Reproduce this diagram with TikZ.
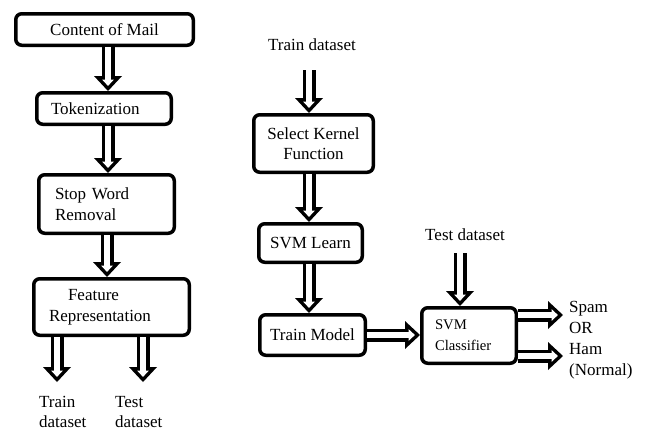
\documentclass[tikz,border=0pt]{standalone}
\usepackage{fontspec}
\setmainfont{Liberation Serif}
\usetikzlibrary{arrows.meta}
\newcommand{\fatarrow}[2]{%
  \draw[fat] #1 -- #2;
  \draw[fatin] #1 -- #2;}

\begin{document}
\begin{tikzpicture}[x=1pt,y=-1pt,
    box/.style={draw,line width=3.5pt,rounded corners=6pt,anchor=north west,
      font=\fontsize{17}{20.5}\selectfont},
    lbl/.style={inner sep=0pt,font=\fontsize{17}{20.5}\selectfont},
    fat/.style={line width=13pt,-{Triangle[length=15pt,width=28pt,line width=0pt]}},
    fatin/.style={white,line width=5.5pt,shorten >=5.1pt,
      -{Triangle[length=6.4pt,width=11.9pt,line width=0pt]}}]
    \useasboundingbox (0,0) rectangle (645,432);

    % preprocessing
    \node[box,minimum width=177.5pt,minimum height=31.5pt] (cm) at (14,12) {Content of Mail};
    \node[box,text width=106pt,inner xsep=14.25pt,minimum height=31.5pt,align=left] (tok) at (35,91) {Tokenization};
    \node[box,text width=103pt,inner xsep=16.25pt,minimum height=58.5pt,align=left] (stop) at (37,173) {Stop Word\\Removal};
    \node[box,text width=125pt,inner xsep=15.25pt,minimum height=56.5pt,align=left] (feat) at (32,277) {\hspace*{19pt}Feature\\Representation};
    \node[lbl,anchor=west,align=left] (trainL) at (39,412) {Train\\dataset};
    \node[lbl,anchor=west,align=left] (testL) at (115,412) {Test\\dataset};

    % svm part
    \node[lbl] (trainR) at (312,45) {Train dataset};
    \node[box,minimum width=119.5pt,minimum height=57.5pt,align=center] (kern) at (252,113) {Select Kernel\\Function};
    \node[box,minimum width=103.5pt,minimum height=38.5pt] (learn) at (257,222) {SVM Learn};
    \node[box,minimum width=105.5pt,minimum height=40.5pt] (model) at (258,313) {Train Model};
    \node[lbl] (testR) at (465,235) {Test dataset};
    \node[box,text width=68pt,inner xsep=13.25pt,minimum height=55.5pt,align=left,
      font=\fontsize{14.7}{21}\selectfont] (clf) at (420,306) {SVM\\Classifier};
    \node[lbl,anchor=west,align=left,font=\fontsize{17}{21}\selectfont] (result) at (569,340.5) {Spam\\OR\\Ham\\(Normal)};

    \coordinate (trainEnd) at (57,382);
    \coordinate (testEnd) at (143,382);
    \coordinate (trainIn) at (309,70);
    \coordinate (testIn) at (460,253);
    \coordinate (spamEnd) at (563,315);
    \coordinate (hamEnd) at (563,356);

    \fatarrow{(108,0 |- cm.south)}{(108,0 |- tok.north)}
    \fatarrow{(108,0 |- tok.south)}{(108,0 |- stop.north)}
    \fatarrow{(107,0 |- stop.south)}{(107,0 |- feat.north)}
    \fatarrow{(trainEnd |- feat.south)}{(trainEnd)}
    \fatarrow{(testEnd |- feat.south)}{(testEnd)}

    \fatarrow{(trainIn)}{(trainIn |- kern.north)}
    \fatarrow{(309,0 |- kern.south)}{(309,0 |- learn.north)}
    \fatarrow{(309,0 |- learn.south)}{(309,0 |- model.north)}
    \fatarrow{(model.east)}{(model.east -| clf.west)}
    \fatarrow{(testIn)}{(testIn |- clf.north)}
    \fatarrow{(spamEnd -| clf.east)}{(spamEnd)}
    \fatarrow{(hamEnd -| clf.east)}{(hamEnd)}

\end{tikzpicture}
\end{document}
